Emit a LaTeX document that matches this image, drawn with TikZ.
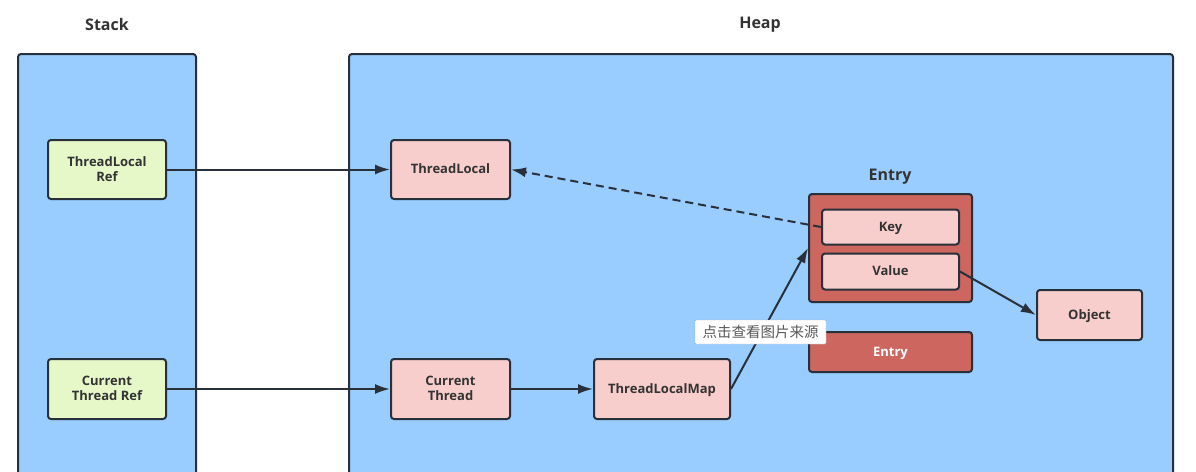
\documentclass[tikz,border=0pt]{standalone}
\usepackage{fontspec}
\setmainfont{Open Sans}
\newfontfamily\cjk{Noto Sans CJK SC}
\usetikzlibrary{arrows.meta}
\definecolor{heapblue}{RGB}{153,204,255}
\definecolor{refgreen}{RGB}{230,248,200}
\definecolor{cellpink}{RGB}{248,206,204}
\definecolor{entryred}{RGB}{205,102,94}
\definecolor{edge}{RGB}{40,48,58}
\definecolor{labeltext}{RGB}{51,51,51}
\begin{document}
\begin{tikzpicture}[x=1pt,y=-1pt,
    area/.style={draw=edge,line width=2pt,fill=heapblue,rounded corners=3pt},
    box/.style={draw=edge,line width=2pt,rounded corners=3pt,align=center,
      font=\fontsize{13}{15.5}\selectfont\bfseries,text=labeltext,inner sep=0pt,
      text depth=1pt},
    refbox/.style={box,fill=refgreen},
    objbox/.style={box,fill=cellpink},
    entrybox/.style={box,fill=entryred},
    title/.style={font=\fontsize{16}{18}\selectfont\bfseries,text=labeltext},
    link/.style={draw=edge,line width=2pt,-{Latex[length=15pt,width=10pt]}}]
  \clip (0,0) rectangle (1196,471);
  \fill[white] (0,0) rectangle (1196,471);
  % stack and heap
  \draw[area] (18,54) rectangle (196,500);
  \draw[area] (349,54) rectangle (1173,500);
  \node[title] (stacktitle) at (107,24) {Stack};
  \node[title] (heaptitle) at (760,25) {Heap};
  % references on the stack
  \node[refbox,minimum width=118pt,minimum height=59pt] (tlref) at (107,169.5) {ThreadLocal\\Ref};
  \node[refbox,minimum width=118pt,minimum height=60pt] (ctref) at (107,389) {Current\\Thread Ref};
  % objects on the heap
  \node[objbox,minimum width=119pt,minimum height=59pt] (tl) at (450.5,169.5) {ThreadLocal};
  \node[objbox,minimum width=119pt,minimum height=60pt] (ct) at (450.5,389) {Current\\Thread};
  \node[objbox,minimum width=136pt,minimum height=60pt] (tlmap) at (662,389) {ThreadLocalMap};
  \node[entrybox,minimum width=163pt,minimum height=108pt] (entry) at (890.5,248) {};
  \node[title] (entrytitle) at (890,177) {Entry};
  \node[objbox,minimum width=137pt,minimum height=35pt] (key) at (890.5,227) {Key};
  \node[objbox,minimum width=137pt,minimum height=36pt] (value) at (890.5,271.5) {Value};
  \node[objbox,minimum width=105pt,minimum height=50pt] (object) at (1089.5,315) {Object};
  \node[entrybox,minimum width=163pt,minimum height=40pt,text=white] (entrytwo) at (890.5,352) {Entry};
  % references
  \draw[link] (tlref) -- (tl);
  \draw[link] (ctref) -- (ct);
  \draw[link] (ct) -- (tlmap);
  \draw[link] (tlmap.east) -- (entry.west);
  \draw[link,dash pattern=on 8pt off 5pt] (key.west) -- (tl.east);
  \draw[link] (value.east) -- (object.west);
  % tooltip
  \node[draw=gray!60,fill=white,rounded corners=1pt,minimum width=131pt,minimum height=24pt,
    inner sep=0pt,font=\cjk\fontsize{14.5}{16}\selectfont,text=black!65] (tip) at (760.5,332) {点击查看图片来源};
\end{tikzpicture}
\end{document}
